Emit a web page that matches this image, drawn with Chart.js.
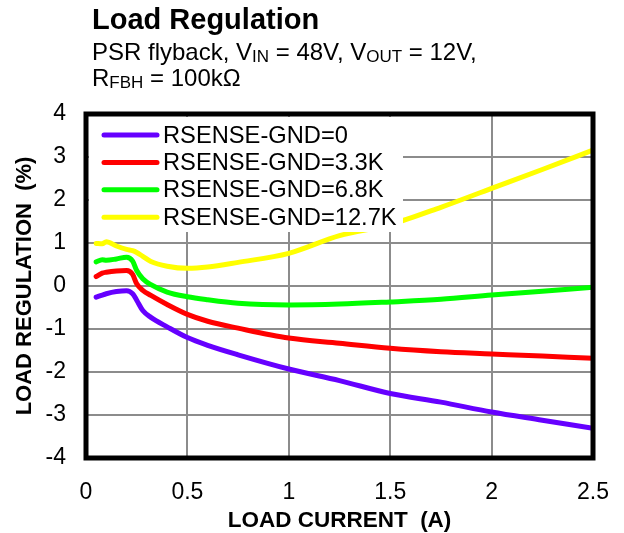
<!DOCTYPE html>
<html>
<head>
<meta charset="utf-8">
<script src="https://cdn.jsdelivr.net/npm/chart.js@4.4.0/dist/chart.umd.min.js"></script>
<style>
  body { margin: 0; background: #fff; }
  #wrap { position: relative; width: 624px; height: 533px; }
  canvas { position: absolute; left: 0; top: 0; }
  .hd { position: absolute; left: 92px; font-family: "Liberation Sans", Arial, sans-serif; color: #000; white-space: nowrap; line-height: 1; }
  #t1 { top: 5px; font-size: 29px; font-weight: bold; }
  #t2 { top: 40px; font-size: 24px; }
  #t3 { top: 66px; font-size: 24px; }
  sub { font-size: 17px; vertical-align: -2px; line-height: 0; }
</style>
</head>
<body>
<div id="wrap">
  <canvas id="load_reg" width="624" height="533"></canvas>
  <div class="hd" id="t1">Load Regulation</div>
  <div class="hd" id="t2">PSR flyback, V<sub>IN</sub> = 48V, V<sub>OUT</sub> = 12V,</div>
  <div class="hd" id="t3">R<sub>FBH</sub> = 100kΩ</div>
</div>
<script>
// load current (A), same sampling for all curves
const current = [0.05, 0.08, 0.1, 0.15, 0.2, 0.23, 0.25, 0.28, 0.32, 0.4, 0.5, 0.6, 0.75, 1.0, 1.25, 1.5, 1.75, 2.0, 2.25, 2.5];

// load regulation (%)
const reg_0    = [-0.26, -0.21, -0.18, -0.13, -0.11, -0.18, -0.33, -0.57, -0.73, -0.95, -1.2, -1.38, -1.6, -1.93, -2.2, -2.5, -2.7, -2.93, -3.12, -3.31];
const reg_3k3  = [0.22, 0.3, 0.32, 0.35, 0.36, 0.27, 0.05, -0.1, -0.22, -0.43, -0.66, -0.82, -0.98, -1.21, -1.33, -1.45, -1.53, -1.58, -1.63, -1.68];
const reg_6k8  = [0.56, 0.61, 0.6, 0.63, 0.67, 0.58, 0.36, 0.17, 0.03, -0.14, -0.25, -0.32, -0.4, -0.44, -0.42, -0.37, -0.31, -0.21, -0.12, -0.03];
const reg_12k7 = [0.99, 0.98, 1.03, 0.93, 0.85, 0.82, 0.78, 0.69, 0.57, 0.46, 0.41, 0.44, 0.55, 0.76, 1.17, 1.43, 1.83, 2.27, 2.71, 3.16];

const labels = ['RSENSE-GND=0', 'RSENSE-GND=3.3K', 'RSENSE-GND=6.8K', 'RSENSE-GND=12.7K'];
const colors = ['#6600ff', '#ff0000', '#00ff00', '#ffff00'];
const series = [reg_0, reg_3k3, reg_6k8, reg_12k7];

const xTicks = [0, 0.5, 1, 1.5, 2, 2.5];
const yTicks = [-4, -3, -2, -1, 0, 1, 2, 3, 4];

const FONT = '"Liberation Sans", Arial, sans-serif';

function toPoints(ys) {
  return ys.map((y, i) => ({ x: current[i], y: y }));
}

// black frame + legend box drawn on top of the curves
const framePlugin = {
  id: 'frame',
  afterDatasetsDraw(chart) {
    const c = chart.ctx;
    const a = chart.chartArea;
    c.save();
    c.strokeStyle = '#000';
    c.lineWidth = 5;
    c.strokeRect(a.left, a.top, a.right - a.left, a.bottom - a.top);

    // legend
    c.fillStyle = '#fff';
    c.fillRect(a.left + 3, a.top + 3, 314, 115);
    c.font = '23.7px ' + FONT;
    c.textBaseline = 'middle';
    c.lineCap = 'round';
    c.lineWidth = 5;
    for (let i = 0; i < labels.length; i++) {
      const y = a.top + 21 + i * 27.4;
      c.strokeStyle = colors[i];
      c.beginPath();
      c.moveTo(a.left + 18, y);
      c.lineTo(a.left + 71, y);
      c.stroke();
      c.fillStyle = '#000';
      c.fillText(labels[i], a.left + 77, y + 1);
    }
    c.restore();
  }
};

const data = {
  datasets: series.map((s, i) => ({
    label: labels[i],
    data: toPoints(s),
    borderColor: colors[i],
    backgroundColor: colors[i],
    borderWidth: 5,
    borderCapStyle: 'round',
    borderJoinStyle: 'round',
    pointRadius: 0,
    cubicInterpolationMode: 'monotone',
    fill: false
  }))
};

const config = {
  type: 'line',
  data: data,
  options: {
    responsive: false,
    animation: false,
    devicePixelRatio: 1,
    layout: { padding: { left: 0, top: 114, right: 31, bottom: 0 } },
    plugins: {
      legend: { display: false },
      tooltip: { enabled: false }
    },
    scales: {
      x: {
        type: 'linear',
        min: 0,
        max: 2.5,
        afterFit(scale) {
          scale.height = 75;
          scale.paddingLeft = 0;
          scale.paddingRight = 0;
        },
        afterBuildTicks(scale) { scale.ticks = xTicks.map(v => ({ value: v })); },
        border: { display: false },
        grid: { color: '#8c8c8c', lineWidth: 2, drawTicks: false },
        ticks: {
          color: '#000', padding: 21, font: { family: FONT, size: 23 },
          callback: v => String(v)
        },
        title: {
          display: true,
          text: 'LOAD CURRENT  (A)',
          color: '#000',
          padding: { top: 0, bottom: 1 },
          font: { family: FONT, size: 22.5, weight: 'bold', lineHeight: 1 }
        }
      },
      y: {
        type: 'linear',
        min: -4,
        max: 4,
        afterFit(scale) {
          scale.width = 86;
          scale.paddingTop = 0;
          scale.paddingBottom = 0;
        },
        afterBuildTicks(scale) { scale.ticks = yTicks.map(v => ({ value: v })); },
        border: { display: false },
        grid: { color: '#8c8c8c', lineWidth: 2, drawTicks: false },
        ticks: {
          color: '#000', padding: 20, font: { family: FONT, size: 23 },
          callback: v => String(v)
        },
        title: {
          display: true,
          text: 'LOAD REGULATION  (%)',
          color: '#000',
          padding: { top: 14, bottom: 0 },
          font: { family: FONT, size: 22, weight: 'bold', lineHeight: 1 }
        }
      }
    }
  },
  plugins: [framePlugin]
};

new Chart(document.getElementById('load_reg'), config);
</script>
</body>
</html>
